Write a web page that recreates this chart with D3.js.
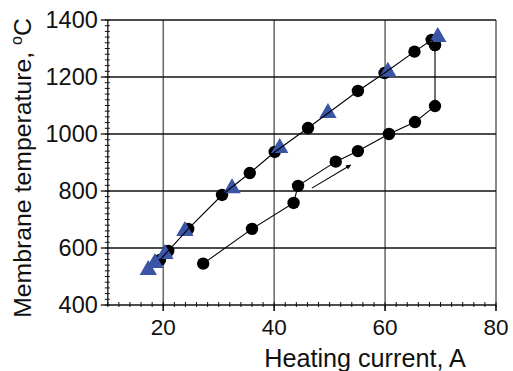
<!DOCTYPE html>
<html>
<head>
<meta charset="utf-8">
<script src="https://cdn.jsdelivr.net/npm/d3@7"></script>
<style>
  html, body { margin: 0; padding: 0; background: #fff; }
  svg { display: block; font-family: "Liberation Sans", Arial, sans-serif; }
</style>
</head>
<body>
<svg id="chart" width="513" height="371"></svg>
<script>
// Heating branch (current increasing), circles
const heatCurrent = [27.2, 36.0, 43.5, 44.3, 51.1, 55.1, 60.7, 65.4, 69.0, 69.0];
const heatTemp    = [545, 667, 758, 818, 903, 940, 1000, 1042, 1098, 1312];
// Cooling branch (current decreasing), circles
const coolCurrent = [69.0, 68.4, 65.3, 59.9, 55.1, 46.1, 40.1, 35.6, 30.6, 24.5, 20.9, 19.4];
const coolTemp    = [1312, 1330, 1289, 1214, 1151, 1021, 937, 863, 786, 667, 590, 558];
// Second run, triangles
const triCurrent = [69.5, 60.5, 49.7, 41.0, 32.4, 23.9, 20.3, 18.5, 17.3];
const triTemp    = [1340, 1218, 1074, 951, 810, 660, 579, 547, 523];
// Direction arrow along the heating branch
const arrowCurrent = [46.8, 53.8];
const arrowTemp    = [810, 891];
// Axis ticks
const xTicks = [20, 40, 60, 80];
const yTicks = [400, 600, 800, 1000, 1200, 1400];

const svg = d3.select("#chart");
const x = d3.scaleLinear().domain([10, 80]).range([107.8, 496]);
const y = d3.scaleLinear().domain([400, 1400]).range([305, 20]);

// grid
const g = svg.append("g");
g.selectAll("line.vgrid").data([20, 40, 60, 80]).join("line")
  .attr("x1", d => x(d)).attr("x2", d => x(d))
  .attr("y1", y(1400)).attr("y2", y(400) + 6)
  .attr("stroke", "#6e6e6e").attr("stroke-width", 1.6);
g.selectAll("line.hgrid").data([600, 800, 1000, 1200, 1400]).join("line")
  .attr("x1", x(10)).attr("x2", x(80))
  .attr("y1", d => y(d)).attr("y2", d => y(d))
  .attr("stroke", "#111").attr("stroke-width", 1.3);

// axes
const xAxis = svg.append("g").attr("transform", `translate(0,${y(400)})`);
xAxis.append("line").attr("x1", x(10)).attr("x2", x(80)).attr("stroke", "#111").attr("stroke-width", 1.3);
xAxis.selectAll("line.minor").data(d3.range(10, 80.1, 2)).join("line")
  .attr("x1", d => x(d)).attr("x2", d => x(d)).attr("y1", -3).attr("y2", 2)
  .attr("stroke", "#111").attr("stroke-width", 1);
xAxis.selectAll("line.major").data(xTicks).join("line")
  .attr("x1", d => x(d)).attr("x2", d => x(d)).attr("y1", 0).attr("y2", 6)
  .attr("stroke", "#111").attr("stroke-width", 1.3);
xAxis.selectAll("text").data(xTicks).join("text")
  .attr("x", d => x(d)).attr("y", 30)
  .attr("text-anchor", "middle").attr("font-size", 22.5).attr("fill", "#111")
  .text(d => d);

const yAxis = svg.append("g").attr("transform", `translate(${x(10)},0)`);
yAxis.append("line").attr("y1", y(400)).attr("y2", y(1400)).attr("stroke", "#111").attr("stroke-width", 1.3);
yAxis.selectAll("line.minor").data(d3.range(400, 1400.1, 20)).join("line")
  .attr("y1", d => y(d)).attr("y2", d => y(d)).attr("x1", -3).attr("x2", 2)
  .attr("stroke", "#111").attr("stroke-width", 1);
yAxis.selectAll("line.major").data(yTicks).join("line")
  .attr("y1", d => y(d)).attr("y2", d => y(d)).attr("x1", -7).attr("x2", 0)
  .attr("stroke", "#111").attr("stroke-width", 1.3);
yAxis.selectAll("text").data(yTicks).join("text")
  .attr("x", -10).attr("y", d => y(d)).attr("dy", "0.36em")
  .attr("text-anchor", "end").attr("font-size", 23.5).attr("fill", "#111")
  .text(d => d);

// axis titles
svg.append("text").attr("x", 365).attr("y", 367)
  .attr("text-anchor", "middle").attr("font-size", 25.2).attr("fill", "#111")
  .text("Heating current, A");
const yt = svg.append("text")
  .attr("transform", `translate(31,168) rotate(-90)`)
  .attr("text-anchor", "middle").attr("font-size", 24.8).attr("fill", "#111");
yt.append("tspan").text("Membrane temperature, ");
yt.append("tspan").attr("font-size", 16).attr("dy", -9).text("o");
yt.append("tspan").attr("dy", 9).text("C");

// data
const heat = heatCurrent.map((c, i) => [c, heatTemp[i]]);
const cool = coolCurrent.map((c, i) => [c, coolTemp[i]]);
const tri = triCurrent.map((c, i) => [c, triTemp[i]]);
const line = d3.line().x(d => x(d[0])).y(d => y(d[1]));

const marks = svg.append("g");
marks.selectAll("circle.h").data(heat.concat(cool)).join("circle")
  .attr("cx", d => x(d[0])).attr("cy", d => y(d[1])).attr("r", 6.2).attr("fill", "#000");
marks.selectAll("path.t").data(tri).join("path")
  .attr("d", d3.symbol(d3.symbolTriangle, 130))
  .attr("transform", d => `translate(${x(d[0])},${y(d[1])})`)
  .attr("fill", "#3a54a6");
marks.append("path").attr("d", line(heat)).attr("fill", "none").attr("stroke", "#000").attr("stroke-width", 1.1);
marks.append("path").attr("d", line(cool)).attr("fill", "none").attr("stroke", "#000").attr("stroke-width", 1.1);

// arrow
svg.append("defs").append("marker").attr("id", "ah")
  .attr("viewBox", "0 0 10 10").attr("refX", 9).attr("refY", 5)
  .attr("markerWidth", 7).attr("markerHeight", 5).attr("orient", "auto")
  .attr("markerUnits", "userSpaceOnUse")
  .append("path").attr("d", "M0,0 L10,5 L0,10 Z").attr("fill", "#000");
svg.append("line")
  .attr("x1", x(arrowCurrent[0])).attr("y1", y(arrowTemp[0]))
  .attr("x2", x(arrowCurrent[1])).attr("y2", y(arrowTemp[1]))
  .attr("stroke", "#000").attr("stroke-width", 1.1).attr("marker-end", "url(#ah)");
</script>
</body>
</html>
